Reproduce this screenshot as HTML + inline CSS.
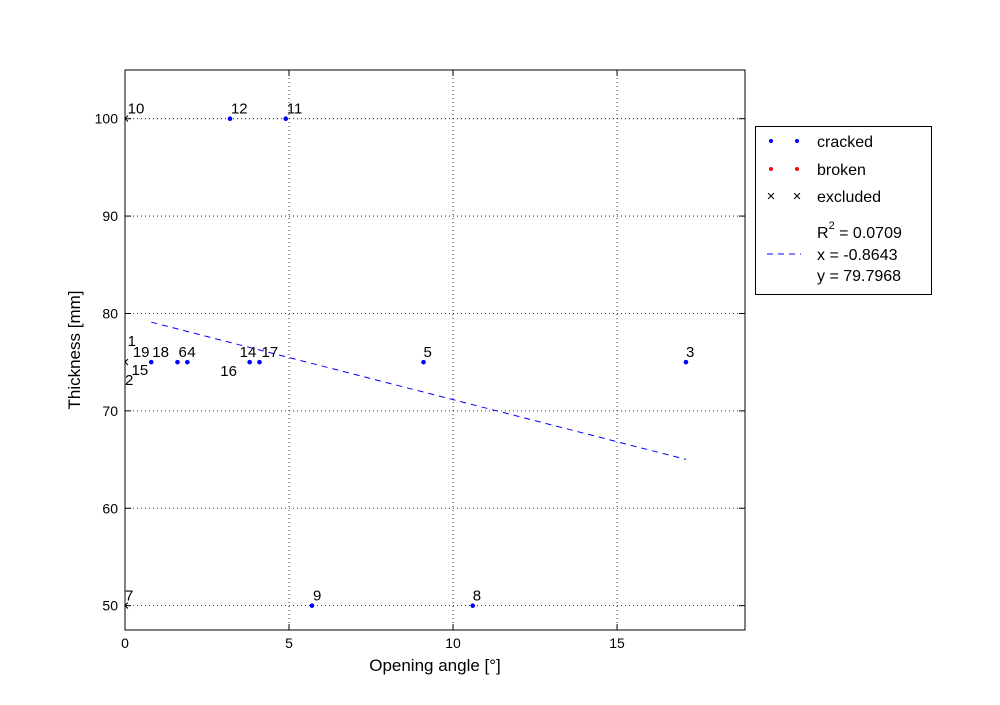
<!DOCTYPE html>
<html><head><meta charset="utf-8"><style>
body{margin:0;background:#fff;}
svg text{font-family:"Liberation Sans",sans-serif;}
</style></head><body>
<svg id="chart" width="1000" height="700" xmlns="http://www.w3.org/2000/svg">
<defs><clipPath id="pc"><rect x="125" y="70" width="620" height="560"/></clipPath></defs>
<rect width="1000" height="700" fill="#fff"/>
<g id="grid"></g>
<g id="marks"></g>
<rect x="125" y="70" width="620" height="560" fill="none" stroke="#000" stroke-width="1"/>
<g id="ticks"></g>
<text x="435" y="671" font-size="17" text-anchor="middle">Opening angle [°]</text>
<text transform="translate(80,350) rotate(-90)" font-size="17" text-anchor="middle">Thickness [mm]</text>
<g>
<rect x="755.5" y="126.5" width="176" height="168" fill="#fff" stroke="#000"/>
<circle cx="771" cy="141" r="2" fill="#00f"/><circle cx="797" cy="141" r="2" fill="#00f"/>
<text x="817" y="147" font-size="16">cracked</text>
<circle cx="771" cy="169" r="2" fill="#f00"/><circle cx="797" cy="169" r="2" fill="#f00"/>
<text x="817" y="175" font-size="16">broken</text>
<text x="771" y="201" font-size="15" text-anchor="middle">×</text><text x="797" y="201" font-size="15" text-anchor="middle">×</text>
<text x="817" y="202" font-size="16">excluded</text>
<text x="817" y="238" font-size="16">R<tspan font-size="11" dy="-9">2</tspan><tspan dy="9"> = 0.0709</tspan></text>
<line x1="767" y1="254" x2="801" y2="254" stroke="#00f" stroke-dasharray="6,5"/>
<text x="817" y="260" font-size="16">x = -0.8643</text>
<text x="817" y="281" font-size="16">y = 79.7968</text>
</g>
</svg>
<script>
const xTicks=[0,5,10,15];
const yTicks=[50,60,70,80,90,100];
const crackedX=[3.2,4.9,9.1,17.1,5.7,10.6,0.8,1.6,1.9,3.8,4.1];
const crackedY=[100,100,75,75,50,50,75,75,75,75,75];
const excludedX=[0,0,0];
const excludedY=[100,75,50];
const labelText=["12","11","5","3","9","8","18","6","4","14","17","19","15","16","1","2","10","7"];
const labelX=[3.2,4.9,9.1,17.1,5.7,10.6,0.8,1.6,1.9,3.8,4.1,0.3,0.2,3.3,0.05,0,0.05,0];
const labelY=[100,100,75,75,50,50,75,75,75,75,75,75,75,75,75,75,100,50];
const labelDx=[1,1,0,0,1,0,1,1,0,-10,2,-2,0,-13,1,0,1,0];
const labelDy=[-5,-5,-5,-5,-5,-5,-5,-5,-5,-5,-5,-5,13,14,-16,23,-5,-5];
const slope=-0.8643, intercept=79.7968, fitX=[0.8,17.1];
const X=v=>125+(v-0)*(620/18.9);
const Y=v=>630-(v-47.5)*(560/57.5);
const ns="http://www.w3.org/2000/svg";
function mk(p,t,a){const e=document.createElementNS(ns,t);for(const k in a)e.setAttribute(k,a[k]);p.appendChild(e);return e;}
const grid=document.getElementById('grid'),ticks=document.getElementById('ticks'),marks=document.getElementById('marks');
xTicks.forEach(t=>{
 const g=mk(grid,'line',{x1:X(t),x2:X(t),y1:70,y2:630,stroke:'#000','stroke-dasharray':'1,3','stroke-width':0.8});
 
 mk(ticks,'line',{x1:X(t),x2:X(t),y1:630,y2:624,stroke:'#000'});
 mk(ticks,'line',{x1:X(t),x2:X(t),y1:70,y2:76,stroke:'#000'});
 const l=mk(ticks,'text',{x:X(t),y:648,'font-size':14,'text-anchor':'middle'});l.textContent=t;
 
});
yTicks.forEach(t=>{
 const g=mk(grid,'line',{x1:125,x2:745,y1:Y(t),y2:Y(t),stroke:'#000','stroke-dasharray':'1,3','stroke-width':0.8});
 
 mk(ticks,'line',{x1:125,x2:131,y1:Y(t),y2:Y(t),stroke:'#000'});
 mk(ticks,'line',{x1:745,x2:739,y1:Y(t),y2:Y(t),stroke:'#000'});
 const l=mk(ticks,'text',{x:118,y:Y(t)+5,'font-size':14,'text-anchor':'end'});l.textContent=t;
 
});
const fl=mk(marks,'line',{x1:X(fitX[0]),y1:Y(intercept+slope*fitX[0]),x2:X(fitX[1]),y2:Y(intercept+slope*fitX[1]),stroke:'#00f','stroke-dasharray':'6,5'});

crackedX.forEach((x,i)=>{
 const c=mk(marks,'circle',{cx:X(x),cy:Y(crackedY[i]),r:2.3,fill:'#00f'});
 
});
excludedX.forEach((x,i)=>{
 const t=mk(marks,'text',{x:X(x),y:Y(excludedY[i])+5,'font-size':15,'text-anchor':'middle','clip-path':'url(#pc)'});t.textContent='×';
 
});
labelText.forEach((s,i)=>{
 const t=mk(marks,'text',{x:X(labelX[i])+labelDx[i],y:Y(labelY[i])+labelDy[i],'font-size':15});t.textContent=s;
 
});
</script>
</body></html>
